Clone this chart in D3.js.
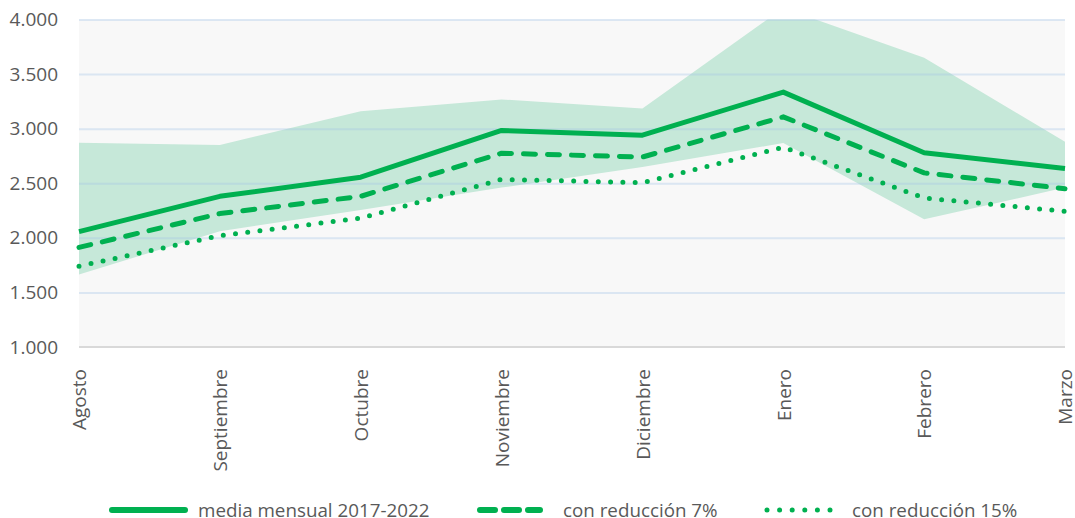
<!DOCTYPE html>
<html>
<head>
<meta charset="utf-8">
<script src="https://cdn.jsdelivr.net/npm/d3@7"></script>
<style>
  body { margin: 0; background: #fff; }
  svg text { font-family: "Open Sans", "Liberation Sans", sans-serif; fill: #595959; }
</style>
</head>
<body>
<svg class="chart"></svg>
<script>
var months = ['Agosto', 'Septiembre', 'Octubre', 'Noviembre', 'Diciembre', 'Enero', 'Febrero', 'Marzo'];
var media = [2057, 2380, 2555, 2984, 2940, 3335, 2780, 2635];
var red7 = [1912, 2222, 2380, 2775, 2740, 3108, 2595, 2450];
var red15 = [1740, 2020, 2180, 2535, 2505, 2830, 2365, 2243];
var bandMax = [2870, 2850, 3160, 3268, 3185, 4105, 3650, 2880];
var bandMin = [1665, 2060, 2255, 2460, 2650, 2868, 2170, 2460];
var yTicks = [1000, 1500, 2000, 2500, 3000, 3500, 4000];
var legendLabels = ['media mensual 2017-2022', 'con reducción 7%', 'con reducción 15%'];

var chartWidth = 1075;
var chartHeight = 518;
var green = '#00b050';

var chart = d3.select('.chart').attr('width', chartWidth).attr('height', chartHeight);

var x = d3.scalePoint().domain(months).range([79, 1065]);
var y = d3.scaleLinear().domain([1000, 4000]).range([347, 19.5]);

chart.append('clipPath').attr('id', 'plotClip')
    .append('rect')
    .attr('x', x.range()[0]).attr('y', y(4000))
    .attr('width', x.range()[1] - x.range()[0])
    .attr('height', y(1000) - y(4000));

// plot background
chart.append('rect')
    .attr('x', x.range()[0]).attr('y', y(4000))
    .attr('width', x.range()[1] - x.range()[0])
    .attr('height', y(1000) - y(4000))
    .style('fill', '#f8f8f8');

// min-max band
var area = d3.area()
    .x((d, i) => x(months[i]))
    .y0((d, i) => y(bandMin[i]))
    .y1((d, i) => y(bandMax[i]));
chart.append('path')
    .datum(bandMax)
    .attr('clip-path', 'url(#plotClip)')
    .attr('d', area)
    .style('fill', '#c6e8d9');

// grid lines
chart.append('g')
    .attr('class', 'grid')
    .attr('transform', 'translate(' + x.range()[0] + ',0)')
    .call(d3.axisLeft(y).tickValues(yTicks.filter(t => t > 1000))
        .tickSize(-(x.range()[1] - x.range()[0])).tickFormat(''))
    .call(g => g.select('.domain').remove())
    .selectAll('line')
    .style('stroke', 'rgba(160,195,230,0.33)')
    .style('stroke-width', 2);

// bottom axis line
chart.append('line')
    .attr('x1', x.range()[0]).attr('x2', x.range()[1])
    .attr('y1', y(1000)).attr('y2', y(1000))
    .style('stroke', '#d9d9d9').style('stroke-width', 2);

// y axis labels
var yAxis = chart.append('g')
    .attr('transform', 'translate(58,0)')
    .call(d3.axisLeft(y).tickValues(yTicks).tickSize(0).tickPadding(0)
        .tickFormat(d => d3.format(',')(d).replace(',', '.')));
yAxis.select('.domain').remove();
yAxis.selectAll('text')
    .style('font-size', '19px')
    .style('font-family', '"Open Sans", sans-serif')
    .style('fill', '#595959');

// x axis labels, rotated
var xAxis = chart.append('g')
    .attr('transform', 'translate(0,' + y(1000) + ')')
    .call(d3.axisBottom(x).tickSize(0).tickPadding(0));
xAxis.select('.domain').remove();
xAxis.selectAll('text')
    .attr('transform', 'rotate(-90)')
    .attr('x', -22)
    .attr('y', 0)
    .attr('dy', '0.36em')
    .style('text-anchor', 'end')
    .style('font-size', '19px')
    .style('font-family', '"Open Sans", sans-serif')
    .style('fill', '#595959');

// series lines
var series = [
  {values: media, dash: null},
  {values: red7, dash: '12,12'},
  {values: red15, dash: '0,12.3'},
];
var line = d3.line().x((d, i) => x(months[i])).y(d => y(d));
chart.selectAll('path.series')
    .data(series)
    .join('path')
    .attr('class', 'series')
    .attr('d', s => line(s.values))
    .style('fill', 'none')
    .style('stroke', green)
    .style('stroke-width', 5)
    .style('stroke-linejoin', 'round')
    .style('stroke-linecap', s => s.dash ? 'round' : 'butt')
    .style('stroke-dasharray', s => s.dash);

// legend
var legendItems = [
  {label: legendLabels[0], x1: 112, x2: 185, dash: null, tx: 198},
  {label: legendLabels[1], x1: 480, x2: 540, dash: '15,9', tx: 563},
  {label: legendLabels[2], x1: 767, x2: 832, dash: '0,12.6', tx: 852},
];
var legend = chart.append('g').attr('class', 'legend');
legend.selectAll('line')
    .data(legendItems)
    .join('line')
    .attr('x1', d => d.x1).attr('x2', d => d.x2)
    .attr('y1', 510).attr('y2', 510)
    .style('stroke', green)
    .style('stroke-width', d => d.dash && d.dash.startsWith('0') ? 5 : 6)
    .style('stroke-linecap', 'round')
    .style('stroke-dasharray', d => d.dash);
legend.selectAll('text')
    .data(legendItems)
    .join('text')
    .attr('x', d => d.tx)
    .attr('y', 510)
    .attr('dy', '0.35em')
    .style('font-size', '18.8px')
    .text(d => d.label);
</script>
</body>
</html>
